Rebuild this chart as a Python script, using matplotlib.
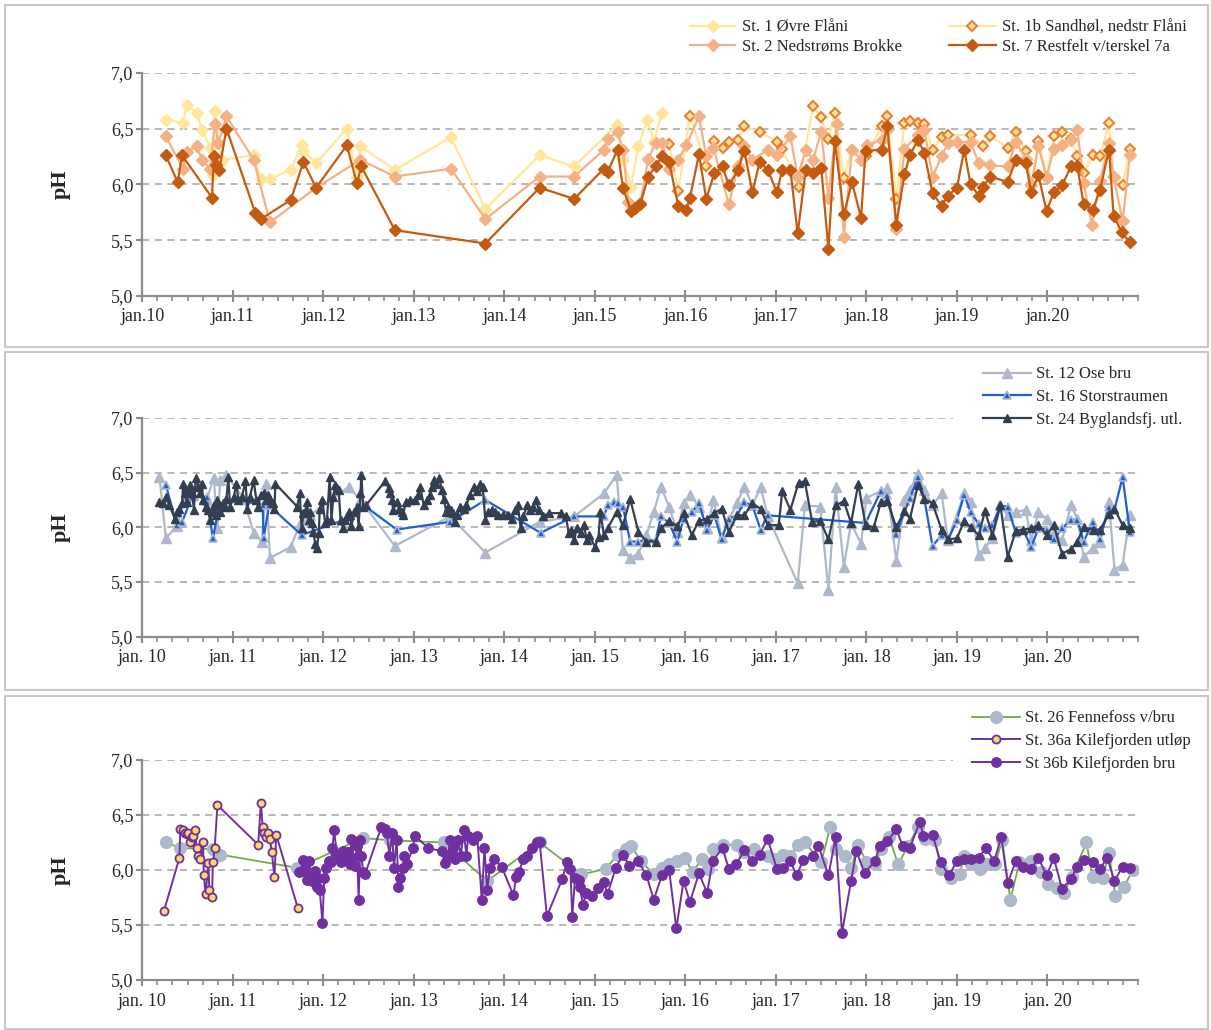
import matplotlib
matplotlib.use('Agg')
import matplotlib.pyplot as plt
from matplotlib.patches import Rectangle
from matplotlib.ticker import MultipleLocator, FuncFormatter

plt.rcParams['font.family'] = ['Liberation Serif', 'DejaVu Serif']

# ---------------- DATA (decimal year, pH) ----------------
years = list(range(2010, 2021))
yticks = [5.0, 5.5, 6.0, 6.5, 7.0]

# Panel 1
st1_x = [2010.26, 2010.45, 2010.49, 2010.60, 2010.66, 2010.75, 2010.78, 2010.80, 2010.88,
         2011.23, 2011.31, 2011.41, 2011.64, 2011.76, 2011.78, 2011.92,
         2012.26, 2012.37, 2012.41, 2012.79, 2013.41, 2013.79, 2014.39, 2014.77,
         2015.24, 2015.31, 2015.40, 2015.48, 2015.58, 2015.65, 2015.74]
st1_y = [6.58, 6.55, 6.71, 6.64, 6.49, 6.33, 6.08, 6.66, 6.22,
         6.26, 6.05, 6.05, 6.13, 6.35, 6.30, 6.19,
         6.50, 6.07, 6.34, 6.13, 6.42, 5.78, 6.26, 6.16,
         6.53, 6.22, 5.98, 6.34, 6.58, 6.38, 6.64]

st1b_x = [2015.82, 2015.92,
          2016.05, 2016.23, 2016.32, 2016.41, 2016.48, 2016.58, 2016.65, 2016.82,
          2017.01, 2017.07, 2017.25, 2017.41, 2017.50, 2017.58, 2017.65, 2017.75, 2017.84, 2017.99,
          2018.17, 2018.23, 2018.33, 2018.42, 2018.48, 2018.57, 2018.64, 2018.73, 2018.83, 2018.90,
          2019.15, 2019.29, 2019.37, 2019.56, 2019.65, 2019.76, 2019.82, 2019.90, 2019.99,
          2020.07, 2020.16, 2020.26, 2020.33, 2020.40, 2020.50, 2020.58, 2020.68, 2020.73, 2020.83, 2020.91]
st1b_y = [6.36, 5.94,
          6.61, 6.16, 6.39, 6.33, 6.38, 6.40, 6.52, 6.47,
          6.38, 6.32, 5.98, 6.70, 6.60, 6.41, 6.64, 6.06, 6.31, 6.25,
          6.52, 6.61, 5.87, 6.55, 6.57, 6.55, 6.54, 6.31, 6.42, 6.44,
          6.44, 6.34, 6.43, 6.33, 6.47, 6.30, 5.99, 6.39, 6.07,
          6.43, 6.47, 6.41, 6.25, 6.10, 6.26, 6.25, 6.55, 6.07, 5.99, 6.32]

st2_x = [2010.26, 2010.45, 2010.49, 2010.60, 2010.66, 2010.75, 2010.80, 2010.84, 2010.93,
         2011.23, 2011.41, 2011.92, 2012.41, 2012.79, 2013.41, 2013.79, 2014.39, 2014.77,
         2015.10, 2015.14, 2015.25, 2015.31, 2015.37, 2015.50, 2015.59, 2015.67, 2015.74, 2015.82, 2015.92,
         2016.01, 2016.15, 2016.23, 2016.31, 2016.48, 2016.58, 2016.65, 2016.74, 2016.91,
         2017.01, 2017.16, 2017.24, 2017.33, 2017.41, 2017.50, 2017.58, 2017.67, 2017.75, 2017.84, 2017.94,
         2018.01, 2018.17, 2018.23, 2018.33, 2018.42, 2018.57, 2018.64, 2018.73, 2018.83, 2018.90,
         2019.00, 2019.15, 2019.24, 2019.37, 2019.56, 2019.65, 2019.76, 2019.82, 2019.90, 2019.99,
         2020.07, 2020.16, 2020.26, 2020.33, 2020.40, 2020.49, 2020.58, 2020.68, 2020.73, 2020.83, 2020.91]
st2_y = [6.43, 6.14, 6.29, 6.34, 6.22, 6.14, 6.54, 6.37, 6.61,
         6.22, 5.66, 5.97, 6.22, 6.07, 6.14, 5.69, 6.07, 6.07,
         6.31, 6.41, 6.47, 6.31, 5.84, 5.83, 6.23, 6.37, 6.37, 6.14, 6.22,
         6.35, 6.61, 6.25, 6.33, 5.82, 6.16, 6.34, 6.22, 6.31,
         6.26, 6.43, 6.07, 6.31, 6.22, 6.47, 5.88, 6.54, 5.53, 6.31, 6.22,
         6.35, 6.40, 6.49, 5.60, 6.32, 6.44, 6.49, 6.07, 6.25, 6.37,
         6.38, 6.38, 6.19, 6.17, 6.16, 6.38, 6.23, 5.99, 6.34, 6.06,
         6.32, 6.35, 6.40, 6.49, 6.01, 5.64, 6.03, 6.37, 6.07, 5.67, 6.26]

st7_x = [2010.26, 2010.39, 2010.44, 2010.77, 2010.79, 2010.81, 2010.85, 2010.93,
         2011.25, 2011.31, 2011.64, 2011.78, 2011.92, 2012.26, 2012.37, 2012.42, 2012.79,
         2013.79, 2014.39, 2014.77,
         2015.10, 2015.14, 2015.25, 2015.31, 2015.40, 2015.44, 2015.50, 2015.59, 2015.67, 2015.74, 2015.82, 2015.92,
         2016.01, 2016.05, 2016.15, 2016.23, 2016.32, 2016.41, 2016.48, 2016.58, 2016.65, 2016.74, 2016.82, 2016.91,
         2017.01, 2017.07, 2017.16, 2017.24, 2017.33, 2017.41, 2017.50, 2017.58, 2017.65, 2017.75, 2017.84, 2017.94, 2017.99,
         2018.17, 2018.23, 2018.33, 2018.42, 2018.48, 2018.57, 2018.64, 2018.73, 2018.83, 2018.90,
         2019.00, 2019.08, 2019.15, 2019.24, 2019.29, 2019.37, 2019.56, 2019.65, 2019.76, 2019.82, 2019.90, 2019.99,
         2020.07, 2020.16, 2020.26, 2020.33, 2020.40, 2020.50, 2020.58, 2020.68, 2020.73, 2020.82, 2020.91]
st7_y = [6.26, 6.02, 6.26, 5.88, 6.25, 6.17, 6.13, 6.50,
         5.74, 5.69, 5.86, 6.20, 5.97, 6.35, 6.01, 6.16, 5.59,
         5.47, 5.97, 5.87,
         6.14, 6.11, 6.31, 5.97, 5.76, 5.79, 5.82, 6.07, 6.16, 6.25, 6.20, 5.81,
         5.77, 5.88, 6.27, 5.87, 6.10, 6.16, 5.99, 6.13, 6.30, 5.93, 6.20, 6.13,
         5.93, 6.13, 6.13, 5.56, 6.13, 6.10, 6.15, 5.42, 6.39, 5.73, 6.02, 5.70, 6.30,
         6.31, 6.52, 5.64, 6.09, 6.26, 6.40, 6.28, 5.92, 5.81, 5.90,
         5.97, 6.31, 6.00, 5.90, 5.98, 6.07, 6.02, 6.22, 6.19, 5.93, 6.08, 5.76,
         5.93, 5.99, 6.16, 6.16, 5.82, 5.77, 5.95, 6.31, 5.72, 5.57, 5.48]

# Panel 2
st12_x = [2010.19, 2010.26, 2010.38, 2010.47, 2010.56, 2010.71, 2010.79, 2010.83, 2010.86, 2010.93,
          2011.12, 2011.23, 2011.32, 2011.37, 2011.41, 2011.64, 2011.76, 2011.85,
          2012.28, 2012.41, 2012.79, 2013.40, 2013.79, 2014.39, 2014.77,
          2015.10, 2015.24, 2015.31, 2015.39, 2015.48, 2015.57, 2015.65, 2015.73, 2015.82, 2015.91, 2015.98,
          2016.05, 2016.15, 2016.24, 2016.31, 2016.40, 2016.48, 2016.57, 2016.65, 2016.74, 2016.83, 2016.91,
          2017.24, 2017.32, 2017.49, 2017.58, 2017.66, 2017.75, 2017.83, 2017.94,
          2018.00, 2018.16, 2018.23, 2018.33, 2018.42, 2018.48, 2018.57, 2018.64, 2018.73, 2018.83, 2018.90,
          2019.08, 2019.15, 2019.24, 2019.31, 2019.39, 2019.48, 2019.56, 2019.65, 2019.76, 2019.82, 2019.90, 2019.99,
          2020.07, 2020.16, 2020.26, 2020.33, 2020.40, 2020.50, 2020.58, 2020.68, 2020.74, 2020.83, 2020.91]
st12_y = [6.46, 5.90, 6.01, 6.26, 6.30, 6.25, 6.45, 5.99, 6.43, 6.48,
          6.26, 5.95, 5.87, 6.40, 5.72, 5.82, 6.07, 6.11,
          6.37, 6.25, 5.83, 6.10, 5.77, 6.05, 6.10,
          6.31, 6.48, 5.79, 5.72, 5.76, 5.93, 6.14, 6.37, 6.19, 5.96, 6.22,
          6.30, 6.19, 5.99, 6.25, 5.91, 6.07, 6.22, 6.37, 6.20, 6.37, 6.10,
          5.49, 6.20, 6.19, 5.43, 6.37, 5.64, 6.04, 5.85,
          6.27, 6.33, 6.36, 5.69, 6.25, 6.34, 6.49, 6.34, 6.20, 6.31, 5.88,
          6.31, 6.23, 5.75, 5.81, 5.90, 6.20, 6.11, 6.14, 6.16, 5.88, 6.14, 6.08,
          5.95, 5.88, 6.20, 6.08, 5.73, 5.81, 5.87, 6.23, 5.61, 5.66, 6.11]

st16_x = [2010.26, 2010.38, 2010.44, 2010.55, 2010.71, 2010.78, 2010.85,
          2011.08, 2011.33, 2011.34, 2011.40, 2011.76, 2012.20, 2012.45, 2012.81,
          2013.40, 2013.79, 2014.40, 2014.77,
          2015.10, 2015.14, 2015.21, 2015.25, 2015.31, 2015.39, 2015.48, 2015.57, 2015.67, 2015.73, 2015.82, 2015.91, 2015.98,
          2016.07, 2016.15, 2016.24, 2016.32, 2016.40, 2016.48, 2016.57, 2016.65, 2016.74, 2016.83, 2016.91,
          2017.99, 2018.16, 2018.23, 2018.33, 2018.48, 2018.57, 2018.64, 2018.73, 2018.83, 2018.90,
          2019.00, 2019.08, 2019.15, 2019.24, 2019.31, 2019.39, 2019.48, 2019.56, 2019.65, 2019.73, 2019.82, 2019.90, 2019.99,
          2020.07, 2020.16, 2020.26, 2020.33, 2020.40, 2020.50, 2020.58, 2020.68, 2020.74, 2020.83, 2020.91]
st16_y = [6.39, 6.02, 6.05, 6.28, 6.28, 5.90, 6.20,
          6.25, 6.20, 5.90, 6.20, 5.93, 6.06, 6.20, 5.98,
          6.05, 6.25, 5.95, 6.10,
          6.10, 6.20, 6.23, 6.22, 6.19, 5.87, 5.87, 5.88, 5.88, 6.10, 6.04, 5.87, 6.08,
          6.14, 6.22, 5.98, 6.11, 5.89, 6.08, 6.11, 6.23, 6.20, 5.98, 6.11,
          6.04, 6.33, 6.30, 5.94, 6.27, 6.46, 6.26, 5.83, 5.93, 5.88,
          6.07, 6.30, 6.14, 6.03, 5.99, 6.02, 6.20, 6.19, 5.95, 5.98, 5.82, 5.99, 5.98,
          5.89, 5.99, 6.07, 6.07, 5.87, 6.05, 5.89, 6.19, 6.16, 6.46, 5.96]

st24_x = [2010.19, 2010.23, 2010.26, 2010.30, 2010.36, 2010.38, 2010.41, 2010.44, 2010.45, 2010.47,
          2010.49, 2010.51, 2010.53, 2010.55, 2010.57, 2010.59, 2010.62, 2010.64, 2010.66, 2010.67,
          2010.70, 2010.73, 2010.75, 2010.77, 2010.79, 2010.81, 2010.83, 2010.86, 2010.89, 2010.91,
          2010.93, 2010.95, 2010.97,
          2011.01, 2011.04, 2011.06, 2011.10, 2011.14, 2011.16, 2011.19, 2011.23, 2011.26, 2011.28,
          2011.31, 2011.34, 2011.37, 2011.39, 2011.41, 2011.44, 2011.46, 2011.47,
          2011.71, 2011.74, 2011.76, 2011.78, 2011.80, 2011.82, 2011.84, 2011.85, 2011.87, 2011.89,
          2011.91, 2011.93, 2011.95, 2011.96, 2011.99,
          2012.02, 2012.04, 2012.07, 2012.09, 2012.11, 2012.13, 2012.15, 2012.17, 2012.19, 2012.22,
          2012.24, 2012.26, 2012.28, 2012.30, 2012.31, 2012.34, 2012.37, 2012.39, 2012.41, 2012.42,
          2012.44, 2012.47, 2012.68, 2012.72, 2012.74, 2012.76, 2012.77, 2012.81, 2012.84, 2012.87,
          2012.88, 2012.91, 2012.96,
          2013.01, 2013.05, 2013.07, 2013.11, 2013.14, 2013.18, 2013.20, 2013.22, 2013.25, 2013.28,
          2013.31, 2013.33, 2013.36, 2013.38, 2013.41, 2013.43, 2013.45, 2013.48, 2013.51, 2013.55,
          2013.58, 2013.62, 2013.66, 2013.70, 2013.73, 2013.76, 2013.79, 2013.82, 2013.86, 2013.90,
          2013.93, 2013.98,
          2014.04, 2014.08, 2014.12, 2014.15, 2014.18, 2014.21, 2014.25, 2014.28, 2014.32, 2014.35,
          2014.38, 2014.43, 2014.49, 2014.63, 2014.68, 2014.71, 2014.74, 2014.77, 2014.80, 2014.85,
          2014.88, 2014.91, 2014.94,
          2015.00, 2015.04, 2015.06, 2015.10, 2015.14, 2015.24, 2015.31, 2015.39, 2015.48, 2015.57,
          2015.67, 2015.73, 2015.82, 2015.91, 2015.98,
          2016.07, 2016.15, 2016.24, 2016.32, 2016.40, 2016.48, 2016.57, 2016.65, 2016.74, 2016.83, 2016.91,
          2017.03, 2017.07, 2017.16, 2017.25, 2017.32, 2017.40, 2017.49, 2017.58, 2017.66, 2017.75,
          2017.83, 2017.91, 2017.99,
          2018.08, 2018.16, 2018.23, 2018.33, 2018.42, 2018.48, 2018.57, 2018.64, 2018.73, 2018.83, 2018.90,
          2019.00, 2019.08, 2019.15, 2019.24, 2019.31, 2019.39, 2019.48, 2019.56, 2019.65, 2019.73,
          2019.82, 2019.90, 2019.99,
          2020.07, 2020.16, 2020.26, 2020.33, 2020.40, 2020.50, 2020.58, 2020.68, 2020.74, 2020.83, 2020.91]
st24_y = [6.23, 6.22, 6.28, 6.20, 6.08, 6.14, 6.17, 6.22, 6.40, 6.31,
          6.23, 6.34, 6.39, 6.31, 6.16, 6.45, 6.37, 6.31, 6.40, 6.25,
          6.19, 6.16, 6.07, 6.14, 6.20, 6.11, 6.25, 6.14, 6.22, 6.19,
          6.26, 6.46, 6.19,
          6.28, 6.40, 6.25, 6.28, 6.42, 6.17, 6.28, 6.43, 6.25, 6.19,
          6.30, 6.31, 6.25, 6.30, 6.25, 6.22, 6.17, 6.40,
          6.19, 6.31, 5.99, 6.13, 6.14, 6.23, 6.07, 6.14, 6.04, 5.96,
          5.85, 5.81, 5.95, 6.17, 6.25,
          6.04, 6.07, 6.46, 6.07, 6.28, 6.39, 6.36, 6.34, 6.07, 5.99,
          6.07, 6.10, 6.14, 6.11, 6.01, 6.14, 6.19, 6.01, 6.31, 6.48,
          6.19, 6.20, 6.42, 6.36, 6.31, 6.25, 6.16, 6.23, 6.17, 6.14,
          6.11, 6.23, 6.25,
          6.25, 6.30, 6.37, 6.20, 6.25, 6.30, 6.37, 6.43, 6.40, 6.45,
          6.34, 6.26, 6.14, 6.19, 6.16, 6.13, 6.05, 6.11, 6.19, 6.17,
          6.20, 6.30, 6.37, 6.33, 6.40, 6.37, 6.07, 6.14, 6.16, 6.14,
          6.11, 6.11,
          6.11, 6.08, 6.16, 6.20, 5.99, 6.10, 6.20, 6.16, 6.19, 6.25,
          6.16, 6.10, 6.13, 6.13, 6.10, 5.95, 5.98, 5.88, 5.99, 5.95,
          6.02, 5.88, 5.93,
          5.82, 5.91, 6.14, 5.93, 5.99, 6.14, 6.02, 6.26, 5.96, 5.87,
          5.87, 5.99, 6.06, 6.01, 6.13,
          5.93, 6.06, 6.08, 6.13, 6.17, 5.96, 6.11, 6.11, 6.22, 6.17, 6.02,
          6.02, 6.33, 6.16, 6.41, 6.42, 6.05, 6.06, 5.89, 6.20, 6.24,
          6.04, 6.40, 6.02,
          6.00, 6.23, 6.24, 6.00, 6.15, 6.08, 6.39, 6.26, 6.22, 5.98, 5.89,
          5.90, 6.06, 6.00, 5.93, 6.15, 5.93, 6.20, 5.73, 5.97, 5.98,
          5.99, 6.02, 5.93,
          6.02, 5.76, 5.80, 5.87, 6.00, 5.98, 5.98, 6.12, 6.17, 6.02, 5.99]

# Panel 3
st26_x = [2010.26, 2010.42, 2010.78, 2010.86, 2011.71, 2012.44, 2012.74, 2013.33, 2013.81, 2014.39, 2014.85,
          2015.12, 2015.25, 2015.34, 2015.40, 2015.51, 2015.65, 2015.74, 2015.82, 2015.91, 2015.99,
          2016.08, 2016.18, 2016.25, 2016.31, 2016.42, 2016.57, 2016.65, 2016.76, 2016.91, 2016.99,
          2017.08, 2017.16, 2017.24, 2017.32, 2017.50, 2017.60, 2017.66, 2017.76, 2017.83, 2017.91,
          2018.00, 2018.10, 2018.16, 2018.25, 2018.35, 2018.46, 2018.57, 2018.65, 2018.76, 2018.82, 2018.93,
          2019.03, 2019.08, 2019.15, 2019.25, 2019.33, 2019.42, 2019.50, 2019.59, 2019.69, 2019.82, 2019.93,
          2020.01, 2020.10, 2020.18, 2020.27, 2020.43, 2020.50, 2020.61, 2020.68, 2020.75, 2020.85, 2020.94]
st26_y = [6.25, 6.20, 6.19, 6.14, 6.02, 6.29, 6.27, 6.25, 5.90, 6.25, 5.96,
          6.01, 6.14, 6.19, 6.22, 6.08, 5.96, 6.02, 6.05, 6.08, 6.11,
          5.98, 6.10, 6.01, 6.19, 6.23, 6.23, 6.16, 6.19, 6.13, 6.10,
          6.14, 6.13, 6.23, 6.25, 6.07, 6.39, 6.19, 6.13, 6.02, 6.23,
          6.07, 6.05, 6.19, 6.30, 6.05, 6.22, 6.39, 6.28, 6.27, 6.01, 5.93,
          5.96, 6.13, 6.05, 6.01, 6.05, 6.05, 6.27, 5.73, 6.07, 6.08, 5.98,
          5.87, 5.84, 5.79, 5.94, 6.25, 5.94, 5.93, 6.15, 5.76, 5.85, 6.00]

st36a_x = [2010.24, 2010.41, 2010.42, 2010.45, 2010.47, 2010.49, 2010.51, 2010.53, 2010.55, 2010.56,
           2010.58, 2010.60, 2010.62, 2010.64, 2010.67, 2010.68, 2010.70, 2010.73, 2010.74, 2010.77,
           2010.78, 2010.80, 2010.83, 2011.28, 2011.31, 2011.33, 2011.34, 2011.37, 2011.39, 2011.41,
           2011.43, 2011.46, 2011.48, 2011.72]
st36a_y = [5.63, 6.11, 6.37, 6.36, 6.34, 6.33, 6.34, 6.25, 6.30, 6.31,
           6.36, 6.20, 6.13, 6.10, 6.25, 5.95, 5.78, 6.06, 5.82, 5.75,
           6.07, 6.20, 6.59, 6.23, 6.61, 6.39, 6.34, 6.30, 6.34, 6.28,
           6.16, 5.94, 6.32, 5.65]

st36b_x = [2011.73, 2011.76, 2011.78, 2011.80, 2011.82, 2011.84, 2011.85, 2011.87, 2011.89, 2011.91,
           2011.93, 2011.94, 2011.96, 2011.99,
           2012.01, 2012.03, 2012.06, 2012.08, 2012.10, 2012.12, 2012.15, 2012.18, 2012.20, 2012.22,
           2012.24, 2012.27, 2012.29, 2012.31, 2012.33, 2012.35, 2012.37, 2012.39, 2012.41, 2012.42,
           2012.44, 2012.46, 2012.64, 2012.68, 2012.70, 2012.73, 2012.76, 2012.78, 2012.81, 2012.83,
           2012.85, 2012.88, 2012.89, 2012.92, 2012.99,
           2013.01, 2013.16, 2013.31, 2013.34, 2013.38, 2013.40, 2013.43, 2013.46, 2013.49, 2013.52,
           2013.55, 2013.58, 2013.60, 2013.65, 2013.70, 2013.75, 2013.78, 2013.81, 2013.84, 2013.89, 2013.97,
           2014.10, 2014.13, 2014.16, 2014.21, 2014.25, 2014.30, 2014.36, 2014.39, 2014.47,
           2014.64, 2014.69, 2014.73, 2014.75, 2014.78, 2014.82, 2014.83, 2014.87, 2014.90, 2014.97,
           2015.03, 2015.10, 2015.14, 2015.23, 2015.31, 2015.38, 2015.48, 2015.57, 2015.65, 2015.74,
           2015.82, 2015.90, 2015.98,
           2016.05, 2016.15, 2016.24, 2016.30, 2016.41, 2016.48, 2016.56, 2016.65, 2016.74, 2016.82, 2016.91,
           2017.01, 2017.08, 2017.16, 2017.23, 2017.30, 2017.41, 2017.47, 2017.58, 2017.66, 2017.73,
           2017.83, 2017.89, 2017.98,
           2018.09, 2018.15, 2018.23, 2018.33, 2018.40, 2018.48, 2018.59, 2018.63, 2018.73, 2018.82, 2018.91,
           2019.00, 2019.08, 2019.15, 2019.24, 2019.32, 2019.41, 2019.49, 2019.56, 2019.65, 2019.73,
           2019.82, 2019.90, 2019.99,
           2020.07, 2020.16, 2020.26, 2020.33, 2020.40, 2020.50, 2020.58, 2020.66, 2020.74, 2020.83, 2020.91]
st36b_y = [5.98, 5.99, 6.09, 6.02, 5.91, 6.08, 5.93, 5.90, 5.91, 5.99,
           5.85, 5.93, 5.82, 5.52,
           5.93, 6.02, 6.08, 6.07, 6.20, 6.36, 6.14, 6.14, 6.07, 6.17,
           6.10, 6.16, 6.05, 6.28, 6.11, 6.04, 6.22, 5.73, 6.27, 6.13,
           5.98, 5.96, 6.39, 6.37, 6.34, 6.13, 6.34, 6.02, 6.27, 5.85,
           5.93, 6.02, 6.13, 6.05, 6.20,
           6.31, 6.20, 6.17, 6.06, 6.13, 6.27, 6.20, 6.10, 6.27, 6.13,
           6.36, 6.13, 6.31, 6.27, 6.31, 5.73, 6.20, 5.82, 6.02, 6.10, 6.03,
           5.77, 5.94, 5.98, 6.10, 6.13, 6.20, 6.25, 6.25, 5.58,
           5.92, 6.07, 6.01, 5.57, 5.93, 5.91, 5.85, 5.68, 5.79, 5.76,
           5.84, 5.89, 5.78, 6.02, 6.14, 6.04, 6.08, 5.95, 5.73, 5.95,
           6.00, 5.47, 5.90,
           5.71, 5.97, 5.79, 6.08, 6.20, 6.01, 6.05, 6.18, 6.08, 6.14, 6.28,
           6.01, 6.02, 6.08, 5.95, 6.09, 6.13, 6.22, 5.95, 6.30, 5.43,
           5.90, 6.17, 5.97,
           6.08, 6.22, 6.26, 6.37, 6.22, 6.20, 6.44, 6.31, 6.32, 6.07, 5.95,
           6.08, 6.10, 6.10, 6.11, 6.20, 6.08, 6.30, 5.88, 6.08, 6.03,
           6.01, 6.11, 5.95,
           6.11, 5.83, 5.92, 6.03, 6.09, 6.07, 6.01, 6.11, 5.90, 6.03, 6.02]

# ---------------- FIGURE ----------------
W, H = 1211, 1030
fig = plt.figure(figsize=(W / 100, H / 100), dpi=100)


def fx(px):
    return px / W


def fy(py):
    return 1 - py / H


# panel frames
for top, bot in [(5, 347), (352, 690), (696, 1029)]:
    fig.add_artist(Rectangle((fx(5), fy(bot)), fx(1208 - 5), (bot - top) / H,
                             transform=fig.transFigure, fill=False,
                             edgecolor='#C8C8C8', lw=1.5, zorder=0))

AX_L, AX_R = 142.3, 1138.0
axes_tb = [(72.7, 296.0), (418.0, 636.7), (760.0, 980.0)]
axes = []
for top, bot in axes_tb:
    ax = fig.add_axes([fx(AX_L), fy(bot), (AX_R - AX_L) / W, (bot - top) / H])
    axes.append(ax)

SPINE = '#8C8C8C'
GRID = '#B2B2B2'
TXT = '#262626'


def style(ax, fmt, grid7_end):
    ax.set_xlim(2010, 2021)
    ax.set_ylim(5, 7)
    ax.patch.set_alpha(0)
    for s in ['top', 'right']:
        ax.spines[s].set_visible(False)
    for s in ['left', 'bottom']:
        ax.spines[s].set_color(SPINE)
        ax.spines[s].set_linewidth(1.6)
        ax.spines[s].set_zorder(1)
    ax.spines['left'].set_bounds(5, 7)
    ax.set_yticks(yticks)
    ax.yaxis.set_major_formatter(FuncFormatter(lambda v, p: f"{v:.1f}".replace('.', ',')))
    ax.set_xticks(years)
    ax.set_xticklabels([fmt.format(y % 100) for y in years])
    ax.xaxis.set_minor_locator(MultipleLocator(1 / 6))
    ax.tick_params(axis='x', which='major', direction='inout', length=8, width=1.5,
                   color=SPINE, pad=5, labelsize=13, labelcolor=TXT)
    ax.tick_params(axis='x', which='minor', direction='out', length=3.5, width=1.2, color=SPINE)
    ax.tick_params(axis='y', which='major', direction='out', length=4, width=1.5,
                   color=SPINE, pad=2.5, labelsize=13, labelcolor=TXT)
    for v in [5.5, 6.0, 6.5]:
        ax.axhline(v, color=GRID, lw=1.3, ls=(0, (4, 3)), zorder=0)
    ax.hlines(7.0, 2010, grid7_end, color=GRID, lw=1.3, ls=(0, (4, 3)), zorder=0)
    ax.set_ylabel('pH', fontsize=16, fontweight='bold', color=TXT)
    ax.yaxis.set_label_coords(-0.072, 0.5)


style(axes[0], 'jan.{:02d}', 2021)
style(axes[1], 'jan. {:02d}', 2018.96)
style(axes[2], 'jan. {:02d}', 2018.96)

# ---- panel 1 ----
ax = axes[0]
C1, C1b_e, C2, C7 = '#FFE699', '#ED7D31', '#F4B183', '#C55A11'
h1, = ax.plot(st1_x, st1_y, color=C1, lw=1.6, marker='D', ms=5.8, mfc=C1, mec=C1, mew=1)
h1b, = ax.plot(st1b_x, st1b_y, color=C1, lw=1.6, marker='D', ms=5.0, mfc=C1, mec=C1b_e, mew=1.5)
h2, = ax.plot(st2_x, st2_y, color=C2, lw=1.6, marker='D', ms=5.8, mfc=C2, mec=C2, mew=1)
h7, = ax.plot(st7_x, st7_y, color=C7, lw=1.6, marker='D', ms=5.8, mfc=C7, mec=C7, mew=1)

leg_kw = dict(loc='upper left', frameon=False, fontsize=12, borderpad=0, borderaxespad=0,
              handletextpad=0.4, labelcolor=TXT)
fig.legend([h1, h2], ['St. 1 Øvre Flåni', 'St. 2 Nedstrøms Brokke'],
           bbox_to_anchor=(fx(690), fy(19.5)), handlelength=2.7, labelspacing=0.2, **leg_kw)
fig.legend([h1b, h7], ['St. 1b Sandhøl, nedstr Flåni', 'St. 7 Restfelt v/terskel 7a'],
           bbox_to_anchor=(fx(949), fy(19.5)), handlelength=2.8, labelspacing=0.2, **leg_kw)

# ---- panel 2 ----
ax = axes[1]
C12, C16, C24 = '#ADB9CA', '#1F5FD6', '#333F50'
h12, = ax.plot(st12_x, st12_y, color=C12, lw=1.6, marker='^', ms=6.8, mfc=C12, mec=C12, mew=1)
h16, = ax.plot(st16_x, st16_y, color=C16, lw=1.6, marker='^', ms=6.4, mfc=C16, mec=C12, mew=1.2)
h24, = ax.plot(st24_x, st24_y, color=C24, lw=1.6, marker='^', ms=6.4, mfc=C24, mec=C24, mew=1)
fig.legend([h12, h16, h24], ['St. 12 Ose bru', 'St. 16 Storstraumen', 'St. 24 Byglandsfj. utl.'],
           bbox_to_anchor=(fx(983), fy(366.5)), handlelength=2.9, labelspacing=0.4,
           **{**leg_kw, 'handletextpad': 0.25})

# ---- panel 3 ----
ax = axes[2]
C26f, C26l, CP, CY = '#ADB9CA', '#70AD47', '#7030A0', '#FFD966'
h26, = ax.plot(st26_x, st26_y, color=C26l, lw=1.3, marker='o', ms=9.5, mfc=C26f, mec=C26f, mew=0)
h36a, = ax.plot(st36a_x, st36a_y, color=CP, lw=1.4, marker='o', ms=5.8, mfc=CY, mec=CP, mew=1.3)
h36b, = ax.plot(st36b_x, st36b_y, color=CP, lw=1.4, marker='o', ms=7.0, mfc=CP, mec=CP, mew=0.8)
fig.legend([h26, h36a, h36b], ['St. 26 Fennefoss v/bru', 'St. 36a Kilefjorden utløp', 'St 36b Kilefjorden bru'],
           bbox_to_anchor=(fx(972), fy(710.5)), handlelength=2.9, labelspacing=0.4,
           **{**leg_kw, 'handletextpad': 0.3})

fig.savefig('out.png', dpi=100)
